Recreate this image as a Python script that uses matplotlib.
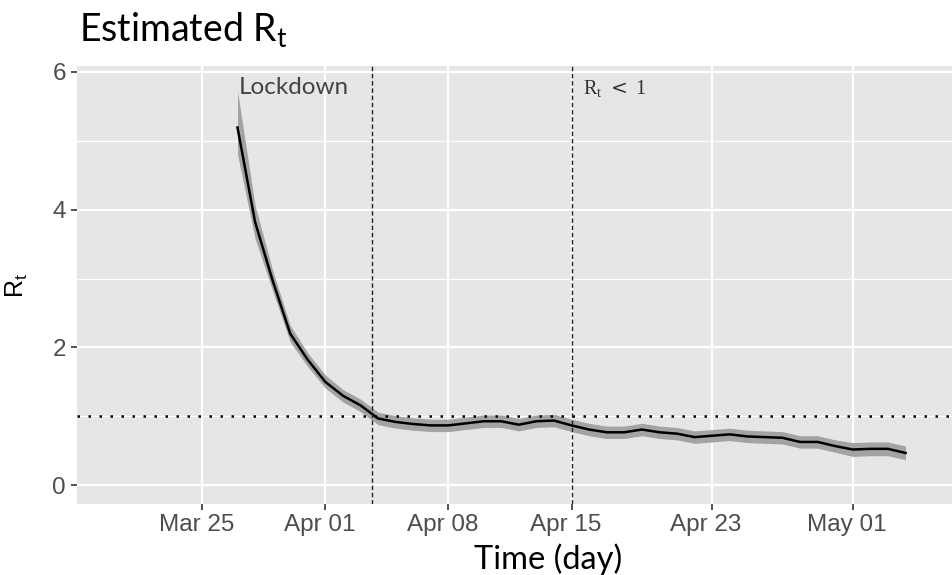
import matplotlib
matplotlib.use("Agg")
import matplotlib.pyplot as plt
import matplotlib.transforms as mtransforms
import pandas as pd

# ---- data ----
start_date = "2020-03-27"
rt = [5.19, 3.82, 2.97, 2.20, 1.82, 1.50, 1.30, 1.16, 0.97, 0.92, 0.89, 0.87, 0.87,
      0.90, 0.93, 0.93, 0.88, 0.93, 0.94, 0.87, 0.81, 0.77, 0.77, 0.81, 0.77, 0.75,
      0.70, 0.72, 0.74, 0.71, 0.70, 0.69, 0.63, 0.63, 0.57, 0.52, 0.53, 0.53, 0.47]
rt_upper = [5.72, 4.06, 3.12, 2.32, 1.92, 1.60, 1.39, 1.25, 1.06, 1.01, 0.98, 0.96, 0.96,
            0.99, 1.02, 1.02, 0.97, 1.02, 1.03, 0.96, 0.90, 0.86, 0.86, 0.90, 0.86, 0.84,
            0.79, 0.81, 0.83, 0.80, 0.79, 0.78, 0.72, 0.72, 0.66, 0.62, 0.63, 0.63, 0.57]
rt_lower = [4.80, 3.58, 2.82, 2.08, 1.72, 1.41, 1.21, 1.07, 0.88, 0.83, 0.80, 0.78, 0.78,
            0.81, 0.84, 0.84, 0.79, 0.84, 0.85, 0.78, 0.72, 0.68, 0.68, 0.72, 0.68, 0.66,
            0.61, 0.63, 0.65, 0.62, 0.61, 0.60, 0.54, 0.54, 0.48, 0.42, 0.43, 0.43, 0.37]
dates = pd.date_range(start_date, periods=len(rt), freq="D")

tick_dates = ["2020-03-25", "2020-04-01", "2020-04-08", "2020-04-15", "2020-04-23", "2020-05-01"]
tick_labels = ["Mar 25", "Apr 01", "Apr 08", "Apr 15", "Apr 23", "May 01"]
y_ticks = [0, 2, 4, 6]
lockdown_date = "2020-04-03 15:30"
rt_below1_date = "2020-04-15"
threshold = 1

# ---- figure ----
fig = plt.figure(figsize=(9.53, 5.75), dpi=100)
ax = fig.add_axes([77 / 953, (575 - 504) / 575, (953 - 77) / 953, (504 - 66.5) / 575])
ax.set_facecolor("#E6E6E6")
for s in ax.spines.values():
    s.set_visible(False)

xl = pd.Timestamp("2020-03-25") - pd.Timedelta(days=7.13)
xr = pd.Timestamp("2020-03-25") + pd.Timedelta(days=42.7)
ax.set_xlim(xl, xr)
ax.set_ylim(-0.27, 6.075)

# grid
ax.set_xticks(pd.to_datetime(tick_dates))
ax.set_xticklabels(tick_labels)
ax.set_yticks(y_ticks)
ax.set_yticks([1, 3, 5], minor=True)
ax.grid(which="major", color="white", linewidth=1.6)
ax.grid(which="minor", axis="y", color="white", linewidth=0.9)
ax.set_axisbelow(True)
ax.tick_params(axis="both", which="major", length=4, width=1.2, color="#333333",
               labelcolor="#4D4D4D", labelsize=17.5, pad=3)
ax.tick_params(axis="y", which="major", pad=4)
ax.tick_params(axis="y", which="minor", length=0)
shift = mtransforms.ScaledTranslation(-6 / 100, 0, fig.dpi_scale_trans)
for lab in ax.get_xticklabels():
    lab.set_family("Liberation Sans")
    lab.set_transform(lab.get_transform() + shift)
for lab in ax.get_yticklabels():
    lab.set_family("Liberation Sans")

# ribbon and line
ax.fill_between(dates, rt_lower, rt_upper, color="#A3A3A3", linewidth=0, zorder=2)
ax.plot(dates, rt, color="black", linewidth=1.8, zorder=3)

# reference lines
ax.axhline(threshold, color="black", linewidth=1.8, linestyle=(0, (1, 3.4)), zorder=4)
ax.axvline(pd.Timestamp(lockdown_date), color="#222222", linewidth=1.0,
           linestyle=(0, (3.2, 2.0)), zorder=4)
ax.axvline(pd.Timestamp(rt_below1_date), color="#222222", linewidth=1.0,
           linestyle=(0, (3.2, 2.0)), zorder=4)

# annotations
ax.text(pd.Timestamp(lockdown_date) - pd.Timedelta(days=7.55), 5.68, "Lockdown",
        family="Lato", fontsize=17.5, color="#444444", ha="left", va="baseline")
ax.text(pd.Timestamp(rt_below1_date) + pd.Timedelta(days=0.65), 5.67,
        r"R$_\mathregular{t}$ $<$ 1", family="Liberation Serif", fontsize=14.5,
        color="#333333", ha="left", va="baseline")

# labels
fig.text(79 / 953, 1 - 42 / 575, r"Estimated R$_\mathregular{t}$", family="Lato",
         fontsize=27, color="black", ha="left", va="baseline")
ax.set_xlabel("Time (day)", family="Lato", fontsize=23.5, color="black", labelpad=2)
ax.xaxis.set_label_coords((548 - 77) / (953 - 77), -0.09)
ax.set_ylabel(r"R$_\mathregular{t}$", family="Liberation Sans", fontsize=18, color="black")
ax.yaxis.set_label_coords(-(77 - 30) / (953 - 77), 0.5)

fig.savefig("out.png", dpi=100)
